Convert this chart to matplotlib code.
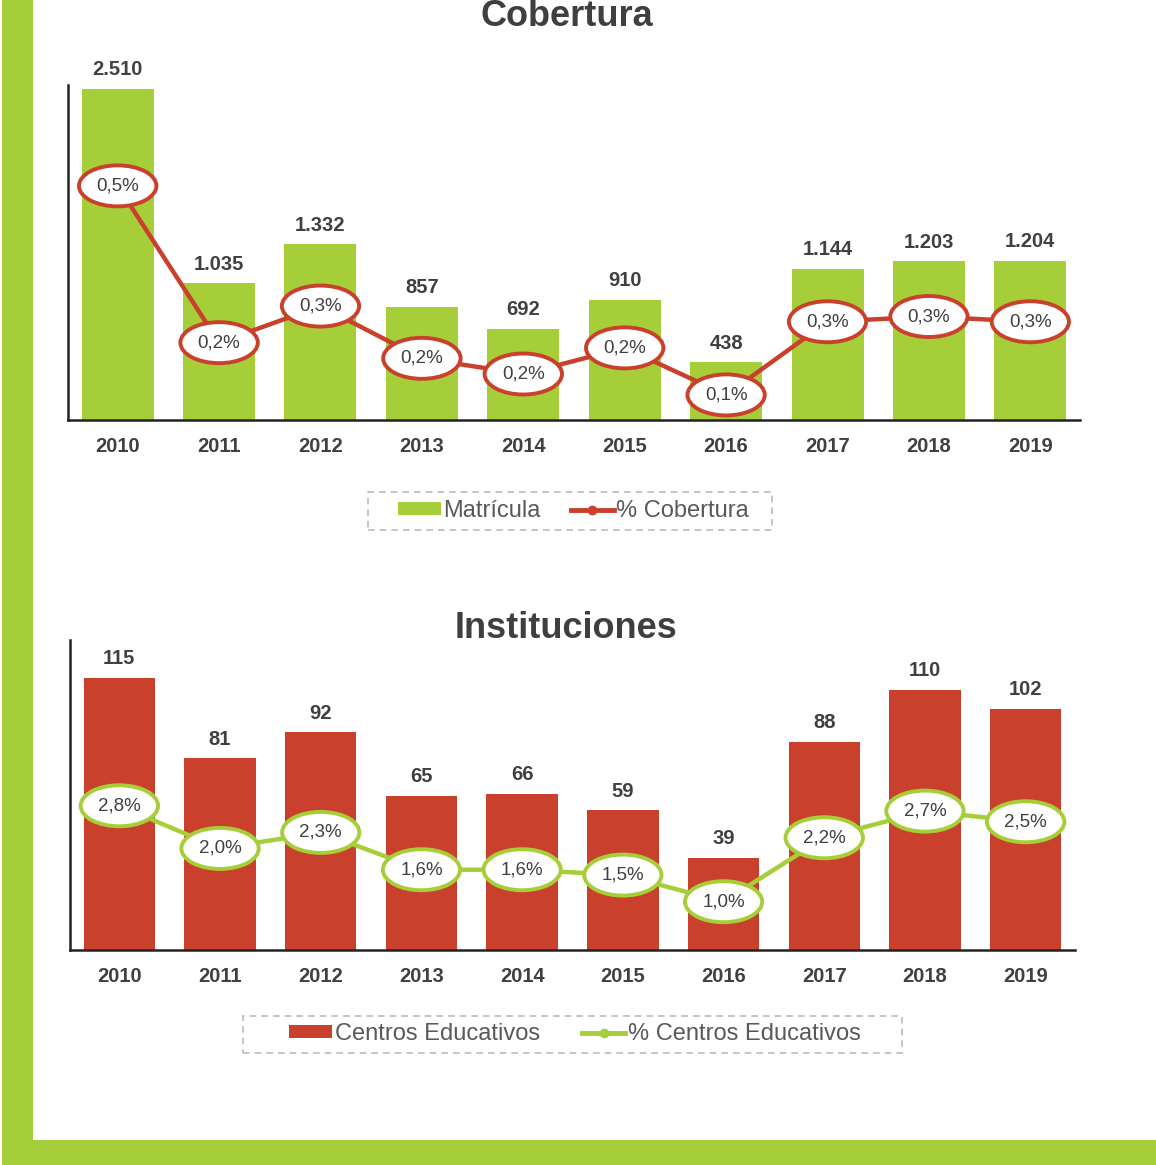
import matplotlib
matplotlib.use("Agg")
import matplotlib.pyplot as plt
from matplotlib.patches import Rectangle, Patch
from matplotlib.lines import Line2D

years = ["2010", "2011", "2012", "2013", "2014", "2015", "2016", "2017", "2018", "2019"]

matricula = [2510, 1035, 1332, 857, 692, 910, 438, 1144, 1203, 1204]
matricula_labels = ["2.510", "1.035", "1.332", "857", "692", "910", "438", "1.144", "1.203", "1.204"]
cobertura_pct = [0.50, 0.20, 0.27, 0.17, 0.14, 0.19, 0.10, 0.24, 0.25, 0.24]
cobertura_labels = ["0,5%", "0,2%", "0,3%", "0,2%", "0,2%", "0,2%", "0,1%", "0,3%", "0,3%", "0,3%"]

centros = [115, 81, 92, 65, 66, 59, 39, 88, 110, 102]
centros_pct = [2.8, 2.0, 2.3, 1.6, 1.6, 1.5, 1.0, 2.2, 2.7, 2.5]
centros_labels = ["2,8%", "2,0%", "2,3%", "1,6%", "1,6%", "1,5%", "1,0%", "2,2%", "2,7%", "2,5%"]

GREEN = "#A6CE39"
RED = "#C9402C"
DARK = "#404040"
FONT = ["Liberation Sans", "DejaVu Sans"]
plt.rcParams["font.family"] = FONT

W, H = 1156, 1165
fig = plt.figure(figsize=(W / 100, H / 100), dpi=100)

# green frame
fig.patches.append(Rectangle((2 / W, 25 / H), 31 / W, 1 - 25 / H, transform=fig.transFigure,
                             facecolor=GREEN, edgecolor="none", zorder=0))
fig.patches.append(Rectangle((2 / W, 0), 1, 25 / H, transform=fig.transFigure,
                             facecolor=GREEN, edgecolor="none", zorder=0))


def panel(rect, bars, bar_labels, bar_color, ylim_top, pct, pct_labels, line_color, pct_lim,
          title, title_y, leg_labels, leg_center, leg_cols_gap, leg_box):
    ax = fig.add_axes(rect)
    x = list(range(len(years)))
    ax.bar(x, bars, width=0.71, color=bar_color, zorder=2)
    ax.set_xlim(-0.49, 9.49)
    ax.set_ylim(0, ylim_top)
    for xi, v, lab in zip(x, bars, bar_labels):
        ax.annotate(lab, (xi, v), xytext=(0, 7), textcoords="offset points", ha="center",
                    va="bottom", fontsize=14.5, fontweight="bold", color=DARK)
    ax.set_xticks(x)
    ax.set_xticklabels(years, fontsize=14.5, fontweight="bold", color=DARK)
    ax.tick_params(axis="x", length=0, pad=12.5)
    ax.set_yticks([])
    for s in ["top", "right"]:
        ax.spines[s].set_visible(False)
    ax.spines["left"].set_linewidth(1.8)
    ax.spines["left"].set_color("#222222")
    ax.spines["bottom"].set_linewidth(1.8)
    ax.spines["bottom"].set_color("#222222")

    ax2 = ax.twinx()
    ax2.set_ylim(*pct_lim)
    ax2.plot(x, pct, color=line_color, lw=3.2, zorder=3)
    for xi, v, lab in zip(x, pct, pct_labels):
        ax2.text(xi, v, lab, ha="center", va="center", fontsize=13.5, color=DARK, zorder=4,
                 bbox=dict(boxstyle="ellipse,pad=0.32", fc="white", ec=line_color, lw=2.8))
    ax2.set_yticks([])
    for s in ["top", "right", "left", "bottom"]:
        ax2.spines[s].set_visible(False)

    fig.text(0.5 * (rect[0] + rect[0] + rect[2]) - 0.006, title_y, title, ha="center", va="center",
             fontsize=26, fontweight="bold", color="#3F3F3F")

    handles = [Patch(facecolor=bar_color, edgecolor="none"),
               Line2D([0], [0], color=line_color, lw=3.5, marker="o", markersize=6)]
    leg = fig.legend(handles, leg_labels, loc="center", bbox_to_anchor=leg_center, ncol=2,
                     fontsize=17, frameon=False, handlelength=1.82,
                     handleheight=0.45, handletextpad=0.1, columnspacing=leg_cols_gap,
                     borderpad=0, borderaxespad=0)
    for t in leg.get_texts():
        t.set_color("#595959")
    bx0, by0, bx1, by1 = leg_box
    fig.patches.append(Rectangle((bx0 / W, 1 - by1 / H), (bx1 - bx0) / W, (by1 - by0) / H,
                                 transform=fig.transFigure, facecolor="none",
                                 edgecolor="#BBBBBB", lw=1.2, linestyle=(0, (4, 3)), zorder=1))
    return ax, ax2


panel([68 / W, 1 - 420 / H, 1012 / W, 335 / H], matricula, matricula_labels, GREEN, 2540,
      cobertura_pct, cobertura_labels, RED, (0.052, 0.693), "Cobertura", 1 - 16 / H,
      ["Matrícula", "% Cobertura"], (573.5 / W, 1 - 511 / H), 1.27, (368, 492, 772, 530))

panel([70 / W, 1 - 950 / H, 1005 / W, 310 / H], centros, [str(v) for v in centros], RED, 131,
      centros_pct, centros_labels, GREEN, (0.094, 5.91), "Instituciones", 1 - 629 / H,
      ["Centros Educativos", "% Centros Educativos"], (575 / W, 1 - 1034 / H), 1.8,
      (243, 1016, 902, 1053))

fig.savefig("out.png", dpi=100)
